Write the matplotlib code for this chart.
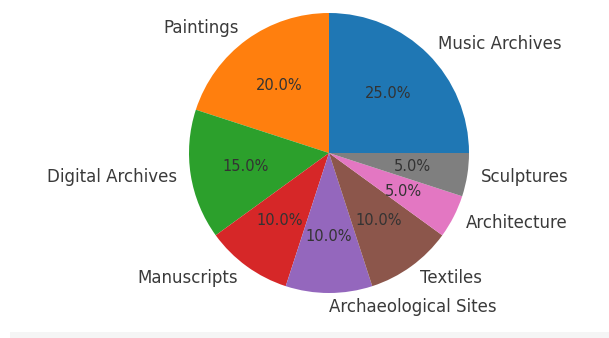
import matplotlib
matplotlib.use("Agg")
import matplotlib.pyplot as plt
from matplotlib.patches import Rectangle

categories = ["Music Archives", "Paintings", "Digital Archives", "Manuscripts",
              "Archaeological Sites", "Textiles", "Architecture", "Sculptures"]
shares = [25, 20, 15, 10, 10, 10, 5, 5]

fig = plt.figure(figsize=(6.09, 3.38), dpi=100)
# pie centred at (329, 153) px with a radius of about 140 px
cx, cy, r = 329, 153, 140
ax = fig.add_axes([(cx - r) / 609, (338 - cy - r) / 338, 2 * r / 609, 2 * r / 338])
wedges, texts, autotexts = ax.pie(shares, labels=categories, autopct="%1.1f%%",
                                  textprops={"fontsize": 12})
for t in texts:
    t.set_color("#3a3a3a")
for t in autotexts:
    t.set_fontsize(10.5)
    t.set_color("#333333")
ax.set_xlim(-1, 1)
ax.set_ylim(-1, 1)
ax.set_aspect("equal")

# faint strip along the bottom edge
fig.patches.append(Rectangle((10 / 609, 0), 1, 6 / 338, transform=fig.transFigure,
                             facecolor="#f5f5f5", edgecolor="none", zorder=-1))

fig.savefig("out.png", dpi=100)
